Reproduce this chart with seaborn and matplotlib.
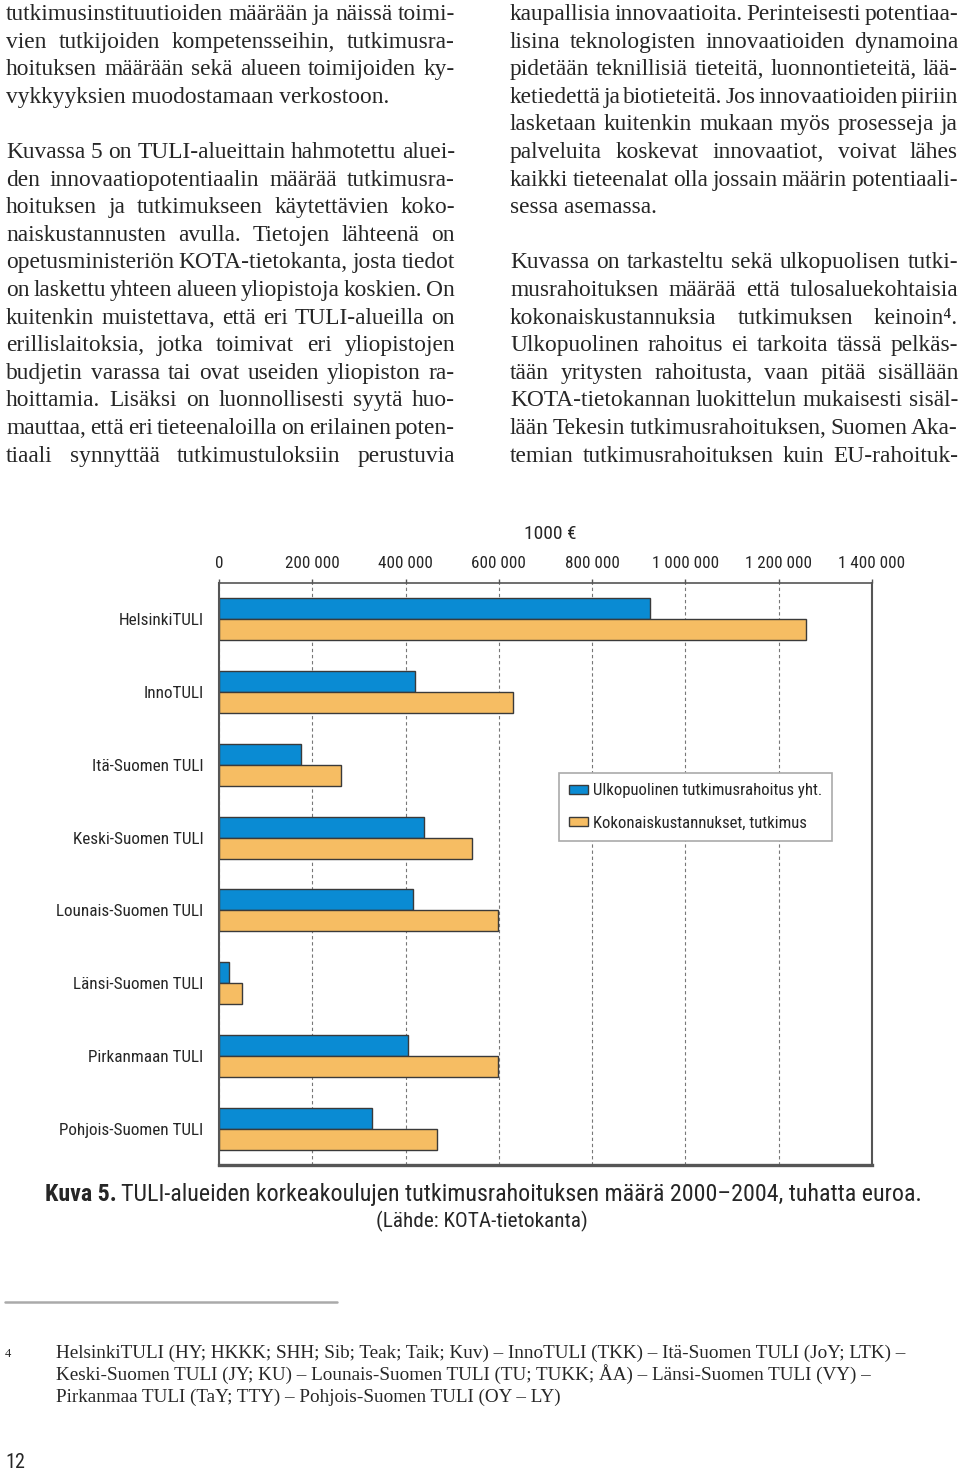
import matplotlib
matplotlib.use("Agg")
import matplotlib.pyplot as plt
from matplotlib import font_manager
from matplotlib.lines import Line2D
from matplotlib.ticker import FixedLocator, FuncFormatter
import seaborn as sns
import pandas as pd

W, H = 960, 1471

# --- Data (1000 €) ---
alueet = ["HelsinkiTULI", "InnoTULI", "Itä-Suomen TULI", "Keski-Suomen TULI",
          "Lounais-Suomen TULI", "Länsi-Suomen TULI", "Pirkanmaan TULI", "Pohjois-Suomen TULI"]
ulkopuolinen = [924000, 421000, 176000, 440000, 416000, 21000, 405000, 328000]
kokonais = [1258000, 630000, 262000, 543000, 598000, 49000, 599000, 468000]
sarjat = ["Ulkopuolinen tutkimusrahoitus yht.", "Kokonaiskustannukset, tutkimus"]
x_tikit = [0, 200000, 400000, 600000, 800000, 1000000, 1200000, 1400000]

vasen_palsta = [
    "tutkimusinstituutioiden määrään ja näissä toimi-",
    "vien tutkijoiden kompetensseihin, tutkimusra-",
    "hoituksen määrään sekä alueen toimijoiden ky-",
    "vykkyyksien muodostamaan verkostoon.",
    "",
    "Kuvassa 5 on TULI-alueittain hahmotettu aluei-",
    "den innovaatiopotentiaalin määrää tutkimusra-",
    "hoituksen ja tutkimukseen käytettävien koko-",
    "naiskustannusten avulla. Tietojen lähteenä on",
    "opetusministeriön KOTA-tietokanta, josta tiedot",
    "on laskettu yhteen alueen yliopistoja koskien. On",
    "kuitenkin muistettava, että eri TULI-alueilla on",
    "erillislaitoksia, jotka toimivat eri yliopistojen",
    "budjetin varassa tai ovat useiden yliopiston ra-",
    "hoittamia. Lisäksi on luonnollisesti syytä huo-",
    "mauttaa, että eri tieteenaloilla on erilainen poten-",
    "tiaali synnyttää tutkimustuloksiin perustuvia",
]
oikea_palsta = [
    "kaupallisia innovaatioita. Perinteisesti potentiaa-",
    "lisina teknologisten innovaatioiden dynamoina",
    "pidetään teknillisiä tieteitä, luonnontieteitä, lää-",
    "ketiedettä ja biotieteitä. Jos innovaatioiden piiriin",
    "lasketaan kuitenkin mukaan myös prosesseja ja",
    "palveluita koskevat innovaatiot, voivat lähes",
    "kaikki tieteenalat olla jossain määrin potentiaali-",
    "sessa asemassa.",
    "",
    "Kuvassa on tarkasteltu sekä ulkopuolisen tutki-",
    "musrahoituksen määrää että tulosaluekohtaisia",
    "kokonaiskustannuksia tutkimuksen keinoin\u2074.",
    "Ulkopuolinen rahoitus ei tarkoita tässä pelkäs-",
    "tään yritysten rahoitusta, vaan pitää sisällään",
    "KOTA-tietokannan luokittelun mukaisesti sisäl-",
    "lään Tekesin tutkimusrahoituksen, Suomen Aka-",
    "temian tutkimusrahoituksen kuin EU-rahoituk-",
]
alaviite = [
    "HelsinkiTULI (HY; HKKK; SHH; Sib; Teak; Taik; Kuv) \u2013 InnoTULI (TKK) \u2013 Itä-Suomen TULI (JoY; LTK) \u2013",
    "Keski-Suomen TULI (JY; KU) \u2013 Lounais-Suomen TULI (TU; TUKK; ÅA) \u2013 Länsi-Suomen TULI (VY) \u2013",
    "Pirkanmaa TULI (TaY; TTY) \u2013 Pohjois-Suomen TULI (OY \u2013 LY)",
]

SININEN = "#0a8bd3"
ORANSSI = "#f6bd63"
REUNA = "#3a3a3a"

sns.set_style("white")

# kapea groteski kuvion teksteihin, jos sellainen loytyy
nimet = {f.name for f in font_manager.fontManager.ttflist}
KAPEA = "Liberation Sans"
KAPEA_KERROIN = 0.86
for ehdokas in ["Liberation Sans Narrow", "Roboto Condensed", "Open Sans Condensed", "Noto Sans Condensed"]:
    if ehdokas in nimet:
        KAPEA = ehdokas
        KAPEA_KERROIN = 1.0
        break
SERIF = ["Liberation Serif", "DejaVu Serif"]


def fx(x):
    return x / W


def fy(y):
    return 1 - y / H


def kirjoita_palsta(fig, rivit, x0, x1, y0, vali, koko):
    """Tasattu palstateksti: sanat levitetaan rivin leveydelle."""
    renderer = fig.canvas.get_renderer()
    for i, rivi in enumerate(rivit):
        if not rivi:
            continue
        y = fy(y0 + i * vali)
        seuraava = rivit[i + 1] if i + 1 < len(rivit) else "x"
        sanat = rivi.split(" ")
        if not seuraava or len(sanat) == 1:
            fig.text(fx(x0), y, rivi, family=SERIF, fontsize=koko, va="baseline")
            continue
        tekstit = [fig.text(fx(x0), y, s, family=SERIF, fontsize=koko, va="baseline") for s in sanat]
        leveydet = [t.get_window_extent(renderer).width for t in tekstit]
        rako = ((x1 - x0) - sum(leveydet)) / (len(sanat) - 1)
        x = x0
        for t, lev in zip(tekstit, leveydet):
            t.set_x(fx(x))
            x += lev + rako


fig = plt.figure(figsize=(W / 100, H / 100), dpi=100)
fig.patch.set_facecolor("white")

# --- Body text ---
kirjoita_palsta(fig, vasen_palsta, 6, 455, 20, 27.6, 16.8)
kirjoita_palsta(fig, oikea_palsta, 510, 958, 20, 27.6, 16.8)

# --- Chart ---
df = pd.DataFrame({
    "alue": alueet * 2,
    "sarja": [sarjat[0]] * len(alueet) + [sarjat[1]] * len(alueet),
    "arvo": ulkopuolinen + kokonais,
})

ax = fig.add_axes([fx(219), fy(1165), (872 - 219) / W, (1165 - 583) / H])
sns.barplot(data=df, x="arvo", y="alue", hue="sarja", order=alueet, hue_order=sarjat,
            palette=[SININEN, ORANSSI], saturation=1, width=0.58, orient="h",
            edgecolor=REUNA, linewidth=1.0, ax=ax)

koko_kuvio = 12.3 * KAPEA_KERROIN
ax.set_xlim(0, 1400000)
ax.set_xlabel("")
ax.set_ylabel("")
ax.xaxis.set_ticks_position("top")
ax.xaxis.set_major_locator(FixedLocator(x_tikit))
ax.xaxis.set_major_formatter(FuncFormatter(lambda v, p: f"{int(v):,}".replace(",", " ")))
ax.tick_params(axis="x", length=3, width=1, color="#555555", pad=5.5, labelsize=koko_kuvio)
for lab in ax.get_xticklabels():
    lab.set_family(KAPEA)

ax.yaxis.set_minor_locator(FixedLocator([i + 0.5 for i in range(len(alueet) - 1)]))
ax.tick_params(axis="y", which="major", length=0, pad=11, labelsize=koko_kuvio)
ax.tick_params(axis="y", which="minor", length=5, width=1.2, color="#555555", direction="out")
for lab in ax.get_yticklabels():
    lab.set_family(KAPEA)

ax.set_axisbelow(True)
ax.xaxis.grid(True, linestyle=(0, (3, 2.5)), color="#777777", linewidth=0.8)
for puoli, lw in [("left", 1.5), ("right", 1.5), ("top", 1.2), ("bottom", 2.4)]:
    ax.spines[puoli].set_visible(True)
    ax.spines[puoli].set_color("#555555")
    ax.spines[puoli].set_linewidth(lw)

kahvat, nimikkeet = ax.get_legend_handles_labels()
leg = ax.legend(kahvat, nimikkeet, loc="upper left", bbox_to_anchor=(0.5207, 0.6735),
                borderaxespad=0, frameon=True, fancybox=False, framealpha=1,
                edgecolor="#aaaaaa", handlelength=1.15, handleheight=0.45,
                handletextpad=0.25, labelspacing=1.05, borderpad=0.6,
                prop={"family": KAPEA, "size": 12.1 * KAPEA_KERROIN})
leg.get_frame().set_linewidth(1.2)

fig.text(fx(550), fy(534), "1000 €", family=KAPEA, fontsize=14 * KAPEA_KERROIN,
         ha="center", va="center")

# --- Caption ---
renderer = fig.canvas.get_renderer()
otsikko_koko = 15.8 if KAPEA_KERROIN < 1 else 17.3
otsikko = fig.text(fx(45), fy(1201), "Kuva 5.", family=KAPEA, fontsize=otsikko_koko,
                   fontweight="bold", va="baseline")
lev = otsikko.get_window_extent(renderer).width
fig.text(fx(45 + lev + 4), fy(1201),
         "TULI-alueiden korkeakoulujen tutkimusrahoituksen määrä 2000\u20132004, tuhatta euroa.",
         family=KAPEA, fontsize=otsikko_koko, va="baseline")
fig.text(fx(482), fy(1227), "(Lähde: KOTA-tietokanta)", family=KAPEA,
         fontsize=otsikko_koko - 2, ha="center", va="baseline")

# --- Footnote ---
fig.add_artist(Line2D([fx(5), fx(337)], [fy(1302), fy(1302)], color="#aaaaaa", linewidth=1.8))
fig.text(fx(5), fy(1357), "4", family=SERIF, fontsize=9, va="baseline")
for i, rivi in enumerate(alaviite):
    fig.text(fx(56), fy(1358 + 22 * i), rivi, family=SERIF, fontsize=13.8, va="baseline")

fig.text(fx(5), fy(1468), "12", family=KAPEA, fontsize=14.5 * KAPEA_KERROIN, va="baseline")

fig.savefig("out.png", dpi=100, facecolor="white")
